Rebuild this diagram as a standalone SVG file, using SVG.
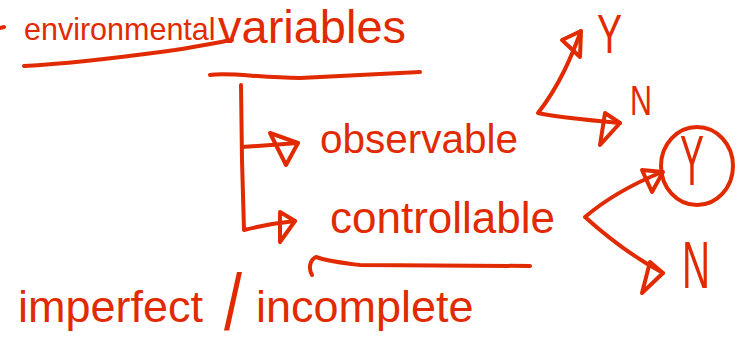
<svg xmlns="http://www.w3.org/2000/svg" width="737" height="354" viewBox="0 0 737 354">
<style>
.ink{fill:none;stroke:#e22a00;stroke-width:4;stroke-linecap:round;stroke-linejoin:round}
.t{font-family:"Liberation Sans",Arial,sans-serif;fill:#e22a00}
</style>
<rect width="737" height="354" fill="#ffffff"/>
<g id="title">
<path class="ink" d="M0,28 L4,27"/>
<text class="t" x="24" y="40" font-size="30.5">environmental</text>
<text class="t" x="218" y="43" font-size="47">variables</text>
</g>
<g id="observable"><text class="t" x="320" y="153" font-size="40.5">observable</text></g>
<g id="controllable"><text class="t" x="330" y="233" font-size="44">controllable</text></g>
<g id="imperfect">
<text class="t" x="18" y="322" font-size="45">imperfect</text>
<text class="t" x="224" y="330" font-size="80" textLength="18" lengthAdjust="spacingAndGlyphs">/</text>
<text class="t" x="256" y="322" font-size="45">incomplete</text>
</g>
<g id="obs-y"><text class="t" x="597" y="53" font-size="56" textLength="25" lengthAdjust="spacingAndGlyphs">Y</text></g>
<g id="obs-n"><text class="t" x="630" y="115" font-size="42" textLength="22" lengthAdjust="spacingAndGlyphs">N</text></g>
<g id="ctrl-y">
<ellipse class="ink" cx="697" cy="166" rx="36" ry="39"/>
<text class="t" x="680" y="185" font-size="70" textLength="24" lengthAdjust="spacingAndGlyphs">Y</text>
</g>
<g id="ctrl-n"><text class="t" x="682" y="288" font-size="66" textLength="28" lengthAdjust="spacingAndGlyphs">N</text></g>
<g id="connectors">
<path class="ink" d="M24,66 C80,63 130,56 175,50 C200,46 220,42 232,40"/>
<path class="ink" d="M210,75 C230,72 260,78 300,78 L420,72"/>
<path class="ink" d="M241,85 L242,160 L244,230 C260,226 275,223 295,221"/>
<path class="ink" d="M242,147 L298,143"/>
<path class="ink" d="M270,133 L298,143 L286,165 Z"/>
<path class="ink" d="M280,212 L295,221 L280,242 Z"/>
<path class="ink" d="M312,275 C308,268 310,260 316,257 C330,262 345,263 360,265 L530,266"/>
<path class="ink" d="M581,31 C572,55 560,85 538,113 C560,118 590,120 620,123"/>
<path class="ink" d="M562,40 L581,31 L580,57 Z"/>
<path class="ink" d="M605,113 L620,123 L600,145 Z"/>
<path class="ink" d="M662,172 C630,185 605,200 585,217 C605,235 635,258 663,273"/>
<path class="ink" d="M642,170 L663,172 L652,192 Z"/>
<path class="ink" d="M650,262 L663,273 L642,293 Z"/>
</g>
</svg>
